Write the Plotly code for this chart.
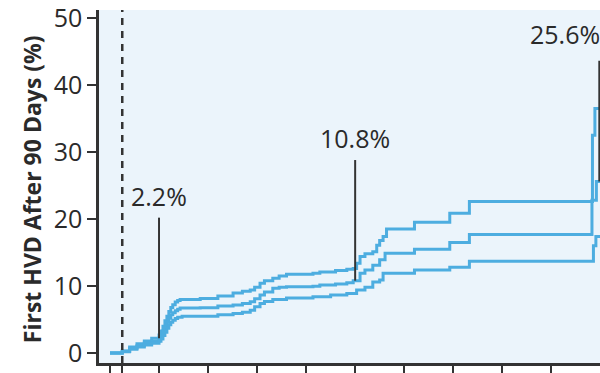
import plotly.graph_objects as go

# Cumulative incidence of first HVD after 90 days (years of follow-up)
years_est = [0, 0.25, 0.4, 0.55, 0.7, 0.85, 1.0, 1.04, 1.08, 1.12, 1.16, 1.2, 1.24, 1.28, 1.33, 1.38, 1.43,
             1.84, 2.2, 2.51, 2.7, 2.86, 2.95, 3.06, 3.15, 3.32, 3.45, 3.6, 4.14, 4.28, 4.6, 4.83, 4.96,
             5.1, 5.2, 5.36, 5.5, 5.61, 6.21, 6.93, 7.33, 9.83, 9.92, 10.2]
pct_est = [0, 0.25, 0.7, 1.1, 1.5, 1.8, 2.2, 2.7, 3.3, 3.9, 4.6, 5.2, 5.7, 6.0, 6.3, 6.55, 6.7,
           6.75, 7.0, 7.16, 7.4, 7.66, 8.1, 8.66, 9.1, 9.66, 9.8, 9.9, 9.95, 10.15, 10.3, 10.5, 10.8,
           11.9, 12.4, 13.1, 13.9, 14.9, 15.5, 16.5, 17.7, 22.8, 25.6, 25.6]

years_upper = [0, 0.25, 0.4, 0.55, 0.7, 0.85, 1.0, 1.04, 1.08, 1.12, 1.16, 1.2, 1.24, 1.28, 1.33, 1.38, 1.43,
               1.84, 2.2, 2.51, 2.7, 2.86, 2.95, 3.06, 3.15, 3.32, 3.45, 3.6, 4.14, 4.28, 4.6, 4.83, 4.96,
               5.03, 5.1, 5.2, 5.36, 5.44, 5.5, 5.57, 5.64, 6.21, 6.93, 7.33, 9.84, 9.89, 10.2]
pct_upper = [0, 0.3, 0.9, 1.4, 1.8, 2.2, 2.7, 3.3, 4.0, 4.8, 5.5, 6.2, 6.8, 7.2, 7.6, 7.85, 8.0,
             8.15, 8.5, 8.95, 9.2, 9.4, 9.8, 10.4, 10.8, 11.15, 11.5, 11.75, 11.9, 12.1, 12.3, 12.5, 12.6,
             13.4, 14.4, 14.8, 15.1, 16.1, 16.8, 17.4, 18.5, 19.5, 20.85, 22.6, 32.5, 36.5, 36.5]

years_lower = [0, 0.25, 0.4, 0.55, 0.7, 0.85, 1.0, 1.04, 1.08, 1.12, 1.16, 1.2, 1.24, 1.28, 1.33, 1.38, 1.47,
               2.2, 2.51, 2.7, 2.86, 2.95, 3.06, 3.15, 3.32, 3.6, 4.14, 4.5, 4.83, 5.03, 5.2, 5.36, 5.5,
               5.57, 6.21, 6.93, 7.33, 9.86, 9.91, 10.2]
pct_lower = [0, 0.2, 0.55, 0.9, 1.2, 1.45, 1.75, 2.1, 2.6, 3.1, 3.7, 4.2, 4.6, 4.9, 5.15, 5.35, 5.5,
             5.7, 5.9, 6.1, 6.4, 6.9, 7.4, 7.7, 8.0, 8.2, 8.4, 8.66, 8.9, 9.4, 9.8, 10.6, 10.9,
             11.9, 12.4, 12.8, 13.7, 16.0, 17.4, 17.4]

# Labelled time points: (year, cumulative %)
label_years = [1, 5, 9.98]
label_values = [2.2, 10.8, 25.6]
label_texts = ["2.2%", "10.8%", "25.6%"]

y_ticks = [0, 10, 20, 30, 40, 50]
x_ticks = [0, 0.25, 1, 2, 3, 4, 5, 6, 7, 8, 9]
landmark_year = 0.25  # 90 days

line_blue = "#4DADE0"
ink = "#333333"
font_family = "Open Sans, sans-serif"

fig = go.Figure()
for xs, ys in [(years_upper, pct_upper), (years_est, pct_est), (years_lower, pct_lower)]:
    fig.add_trace(go.Scatter(x=xs, y=ys, mode="lines", line=dict(color=line_blue, width=3, shape="hv"),
                             showlegend=False, hoverinfo="skip"))

# 90-day landmark
fig.add_shape(type="line", xref="x", yref="paper", x0=landmark_year, x1=landmark_year, y0=0, y1=1,
              line=dict(color=ink, width=2.5, dash="7px,6px"))

# Callout lines and labels
label_shift = [3, 3, 8]
label_x = [1, 5, 9.29]
for yr, val, txt, lx, sh in zip(label_years, label_values, label_texts, label_x, label_shift):
    fig.add_shape(type="line", xref="x", yref="y", x0=yr, x1=yr, y0=val, y1=val + 18,
                  line=dict(color=ink, width=2))
    fig.add_annotation(x=lx, y=val + 18, xref="x", yref="y", text=txt, showarrow=False,
                       xanchor="center", yanchor="bottom", yshift=sh,
                       font=dict(family=font_family, size=25, color="#2a2a2a"))

# Y-axis title
fig.add_annotation(xref="paper", yref="paper", x=-0.134, y=0.492, text="<b>First HVD After 90 Days (%)</b>",
                   textangle=-90, showarrow=False, xanchor="center", yanchor="middle",
                   font=dict(family=font_family, size=23, color="#2a2a2a"))

fig.update_xaxes(range=[-0.2244, 9.994], tickvals=x_ticks, showticklabels=False, ticks="outside",
                 ticklen=10, tickwidth=2, tickcolor=ink, showline=True, linewidth=2.5, linecolor=ink,
                 showgrid=False, zeroline=False)
fig.update_yaxes(range=[-1.49, 51.19], tickvals=y_ticks, ticks="outside", ticklen=9, tickwidth=2,
                 tickcolor=ink, showline=True, linewidth=2.5, linecolor=ink, showgrid=False,
                 zeroline=False, ticklabeloverflow="allow",
                 tickfont=dict(family=font_family, size=25, color="#2a2a2a"))

fig.update_layout(width=600, height=373, margin=dict(l=99, r=0, t=10, b=10),
                  paper_bgcolor="white", plot_bgcolor="#EBF4FB")

fig.write_html("out.html")
